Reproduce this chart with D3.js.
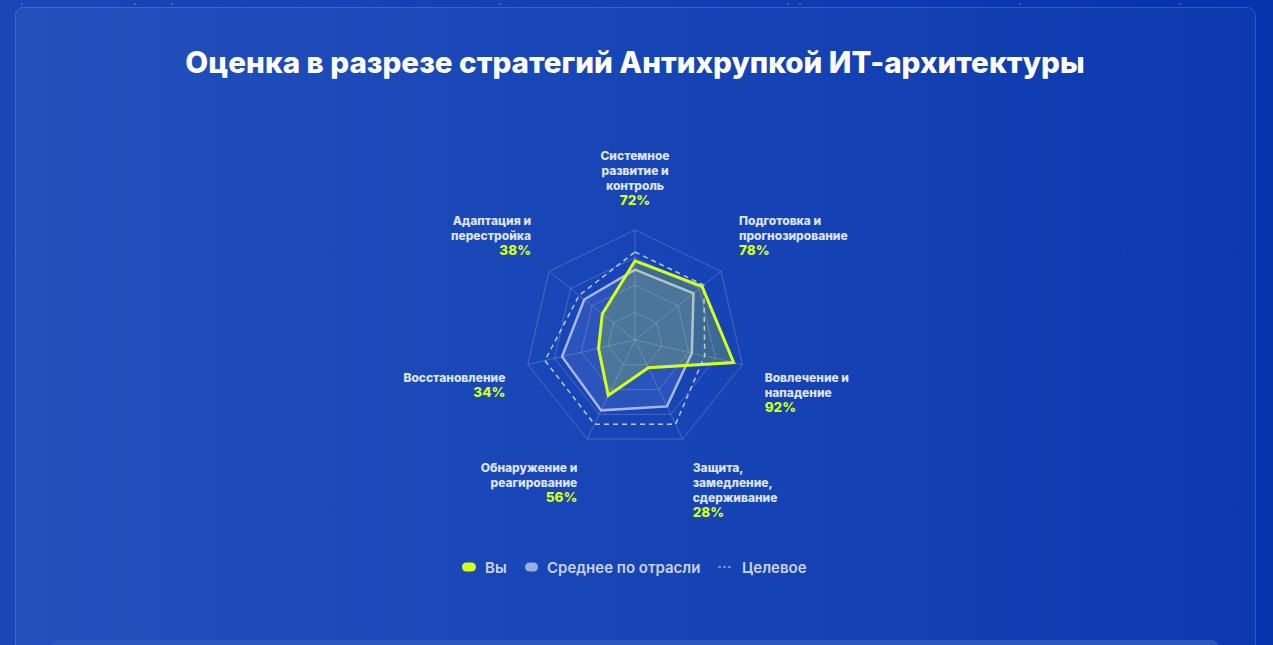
<!DOCTYPE html>
<html><head><meta charset="utf-8">
<script src="https://cdn.jsdelivr.net/npm/d3@7"></script>
<style>
html,body{margin:0;padding:0;width:1273px;height:645px;overflow:hidden;background:#0b3ab0;}
svg{display:block;font-family:Inter,"Noto Sans",sans-serif;}
</style></head>
<body>
<svg id="c" width="1273" height="645"></svg>
<script>
// ---- data ----
const categories = [
  "Системное\nразвитие и\nконтроль",
  "Подготовка и\nпрогнозирование",
  "Вовлечение и\nнападение",
  "Защита,\nзамедление,\nсдерживание",
  "Обнаружение и\nреагирование",
  "Восстановление",
  "Адаптация и\nперестройка"
];
const youValues = [72, 78, 92, 28, 56, 34, 38];
const industryValues = [64, 68, 53, 67, 71, 68, 59];
const targetValues = [80, 80, 65, 85, 85, 84, 65];
const gridLevels = [25, 50, 75, 100];
const seriesNames = ["Вы", "Среднее по отрасли", "Целевое"];
const titleText = "Оценка в разрезе стратегий Антихрупкой ИТ-архитектуры";

// ---- layout ----
const W = 1273, H = 645;
const cx = 635, cy = 340, R = 110;
const svg = d3.select("#c");
const defs = svg.append("defs");

const bg = defs.append("linearGradient").attr("id","bg").attr("x1","0").attr("x2","1").attr("y1","0").attr("y2","0");
bg.append("stop").attr("offset","0").attr("stop-color","#1a47b6");
bg.append("stop").attr("offset","0.5").attr("stop-color","#123fb2");
bg.append("stop").attr("offset","1").attr("stop-color","#0533ad");
const pg = defs.append("linearGradient").attr("id","pg").attr("x1","0").attr("x2","1").attr("y1","0").attr("y2","0");
pg.append("stop").attr("offset","0").attr("stop-color","#2350bd");
pg.append("stop").attr("offset","0.5").attr("stop-color","#1845b6");
pg.append("stop").attr("offset","1").attr("stop-color","#0c39ae");

svg.append("rect").attr("width",W).attr("height",H).attr("fill","url(#bg)");
// faint dots along top edge
[22,135,172,500,788,800,1020,1180].forEach(x=>{
  svg.append("circle").attr("cx",x).attr("cy",4).attr("r",1).attr("fill","rgba(255,255,255,0.25)");
});
svg.append("rect").attr("x",15.5).attr("y",7.5).attr("width",1240).attr("height",700).attr("rx",8)
  .attr("fill","url(#pg)").attr("stroke","rgba(255,255,255,0.16)").attr("stroke-width",1);
svg.append("rect").attr("x",52).attr("y",640).attr("width",1166).attr("height",30).attr("rx",6)
  .attr("fill","#2b55bf");

svg.append("text").attr("x",cx).attr("y",62).attr("text-anchor","middle").attr("dominant-baseline","central")
  .attr("fill","#ffffff").attr("font-size",29.6).attr("font-weight",800)
  .text(titleText);

// ---- scales ----
const n = categories.length;
const angle = d3.scaleLinear().domain([0, n]).range([0, 2*Math.PI]);
const r = d3.scaleLinear().domain([0, 100]).range([0, R]);
const g = svg.append("g").attr("transform",`translate(${cx},${cy})`);
const line = d3.lineRadial().angle((d,i)=>angle(i)).radius(d=>r(d)).curve(d3.curveLinearClosed);

// grid
gridLevels.forEach(lv=>{
  g.append("path").attr("d", line(d3.range(n).map(()=>lv)))
    .attr("fill","none").attr("stroke","rgba(255,255,255,0.2)").attr("stroke-width",1);
});
d3.range(n).forEach(i=>{
  const a = angle(i);
  g.append("line").attr("x1",0).attr("y1",0)
    .attr("x2",Math.sin(a)*r(100)).attr("y2",-Math.cos(a)*r(100))
    .attr("stroke","rgba(255,255,255,0.2)").attr("stroke-width",1);
});

// series
g.append("path").attr("d", line(industryValues))
  .attr("fill","rgba(170,185,235,0.13)").attr("stroke","#a9b8ec").attr("stroke-width",2.5).attr("stroke-linejoin","miter");
g.append("path").attr("d", line(targetValues))
  .attr("fill","none").attr("stroke","rgba(225,232,255,0.8)").attr("stroke-width",1.5).attr("stroke-dasharray","5,4");
g.append("path").attr("d", line(youValues))
  .attr("fill","rgba(212,255,26,0.2)").attr("stroke","#d4ff1a").attr("stroke-width",3).attr("stroke-linejoin","miter");

// labels
const LR = 133, lh = 14.7;
categories.forEach((c,i)=>{
  const a = angle(i), dx = Math.sin(a), dy = -Math.cos(a);
  const ax = dx*LR, ay = dy*LR;
  const anchor = Math.abs(dx) < 0.1 ? "middle" : (dx > 0 ? "start" : "end");
  const lines = c.split("\n");
  const all = lines.concat([youValues[i] + "%"]);
  const m = all.length;
  all.forEach((t,j)=>{
    const y = dy < -0.3 ? ay - 7 - (m-1-j)*lh : ay + 8 + j*lh;
    const isPct = j === m-1;
    g.append("text").attr("x",ax).attr("y",y).attr("text-anchor",anchor).attr("dominant-baseline","central")
      .attr("fill", isPct ? "#d4ff1a" : "#dfe5ff")
      .attr("font-size", isPct ? 13.5 : 12).attr("font-weight",800)
      .text(t);
  });
});

// legend
const lg = svg.append("g").attr("transform","translate(0,567)");
const legendX = [462, 525, 718];
const textX = [485, 547, 742];
lg.append("rect").attr("x",legendX[0]).attr("y",-4.5).attr("width",14).attr("height",9).attr("rx",4.5).attr("fill","#d4ff1a");
lg.append("rect").attr("x",legendX[1]).attr("y",-4.5).attr("width",13).attr("height",9).attr("rx",4.5).attr("fill","#98aee6");
lg.append("line").attr("x1",legendX[2]).attr("x2",legendX[2]+13).attr("y1",0).attr("y2",0)
  .attr("stroke","rgba(225,232,255,0.85)").attr("stroke-width",1).attr("stroke-dasharray","3,2");
seriesNames.forEach((s,i)=>{
  lg.append("text").attr("x",textX[i]).attr("y",0).attr("dominant-baseline","central")
    .attr("fill","#c9d3f6").attr("font-size",15).attr("font-weight",600).text(s);
});
</script>
</body></html>
